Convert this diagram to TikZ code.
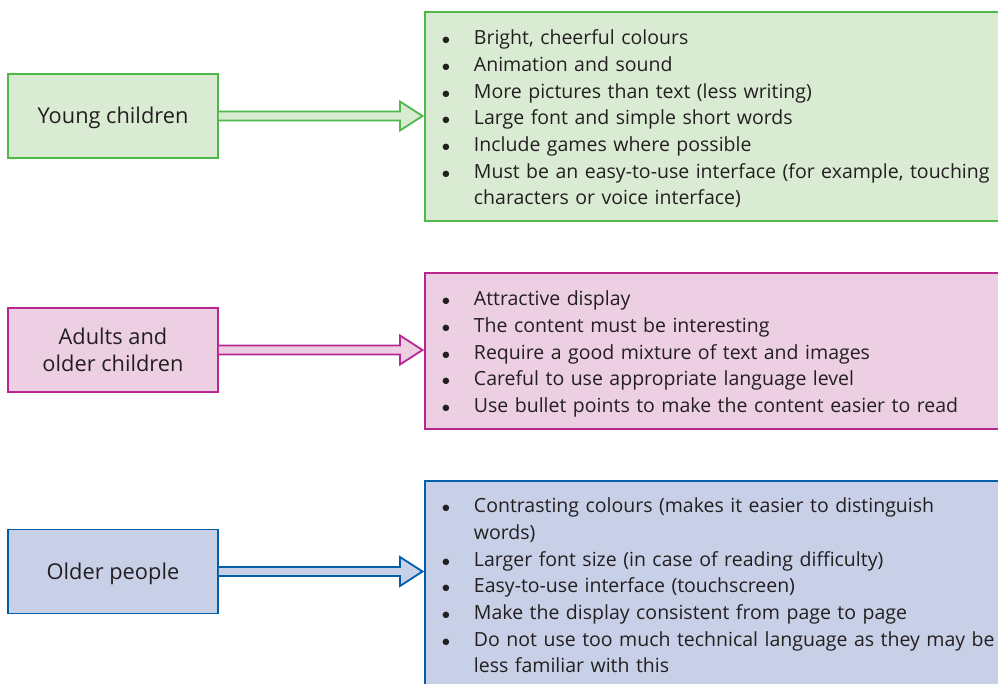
\documentclass[tikz,border=0pt]{standalone}
\usepackage{fontspec}
\setmainfont{Open Sans}
\usetikzlibrary{calc}

\definecolor{ygreen}{HTML}{50B848}
\definecolor{yfill}{HTML}{DAEBD3}
\definecolor{apink}{HTML}{B8268F}
\definecolor{afill}{HTML}{ECCFE2}
\definecolor{oblue}{HTML}{005EAA}
\definecolor{ofill}{HTML}{C8D0E8}
\definecolor{ink}{HTML}{231F20}

% one bullet row of a list box
\newcommand{\itm}[1]{\scalebox{0.8}{$\bullet$} & #1\\}
\newenvironment{blist}{\noindent\begin{lrbox}{0}\begin{tabular}{@{}p{32pt}@{}p{560pt}@{}}}%
  {\end{tabular}\end{lrbox}\raisebox{0pt}[\height][\dimexpr\depth-6pt\relax]{\usebox{0}}}

% hollow block arrow from a group box to its list box
\newcommand{\fatarrow}[3]{%
  \filldraw[#1] let \p1=(#2.east), \p2=(#3.west) in
    (\x1,\y1+4.5pt) -- (\x2-24pt,\y1+4.5pt) -- (\x2-24pt,\y1+14.5pt)
    -- (\x2-1.5pt,\y1) -- (\x2-24pt,\y1-14.5pt) -- (\x2-24pt,\y1-4.5pt) -- (\x1,\y1-4.5pt);}

\begin{document}
\begin{tikzpicture}[x=1pt, y=-1pt,
  every node/.style={font=\fontsize{19.5}{26.7}\selectfont, text=ink},
  agebox/.style={draw, line width=1.9pt, minimum width=210pt, minimum height=84pt,
    align=center, font=\fontsize{21.8}{27}\selectfont},
  oneline/.style={text height=20.5pt, text depth=5pt},
  listbox/.style={draw, line width=1.9pt, anchor=north west, minimum width=586pt,
    inner xsep=17pt, inner ysep=0pt, text width=552pt, align=left},
  arr/.style={line width=1.8pt}]
\useasboundingbox (0,0) rectangle (998,684);
\clip (0,0) rectangle (998,684);

% young children
\node[agebox, oneline, draw=ygreen, fill=yfill] (young) at (113,116) {Young children};
\node[listbox, draw=ygreen, fill=yfill, minimum height=209pt] (ylist) at (424,11) {%
  \begin{blist}
  \itm{Bright, cheerful colours}
  \itm{Animation and sound}
  \itm{More pictures than text (less writing)}
  \itm{Large font and simple short words}
  \itm{Include games where possible}
  \itm{Must be an easy-to-use interface (for example, touching\newline characters or voice interface)}
  \end{blist}};
\fatarrow{arr, draw=ygreen, fill=yfill}{young}{ylist}

% adults and older children
\node[agebox, draw=apink, fill=afill] (adults) at (113,350) {Adults and\\older children};
\node[listbox, draw=apink, fill=afill, minimum height=156pt] (alist) at (424,272) {%
  \begin{blist}
  \itm{Attractive display}
  \itm{The content must be interesting}
  \itm{Require a good mixture of text and images}
  \itm{Careful to use appropriate language level}
  \itm{Use bullet points to make the content easier to read}
  \end{blist}};
\fatarrow{arr, draw=apink, fill=afill}{adults}{alist}

% older people
\node[agebox, oneline, draw=oblue, fill=ofill] (older) at (113,571.5) {Older people};
\node[listbox, draw=oblue, fill=ofill, minimum height=207pt] (olist) at (424,480) {%
  \begin{blist}
  \itm{Contrasting colours (makes it easier to distinguish\newline words)}
  \itm{Larger font size (in case of reading difficulty)}
  \itm{Easy-to-use interface (touchscreen)}
  \itm{Make the display consistent from page to page}
  \itm{Do not use too much technical language as they may be\newline less familiar with this}
  \end{blist}};
\fatarrow{arr, draw=oblue, fill=ofill}{older}{olist}
\end{tikzpicture}
\end{document}
